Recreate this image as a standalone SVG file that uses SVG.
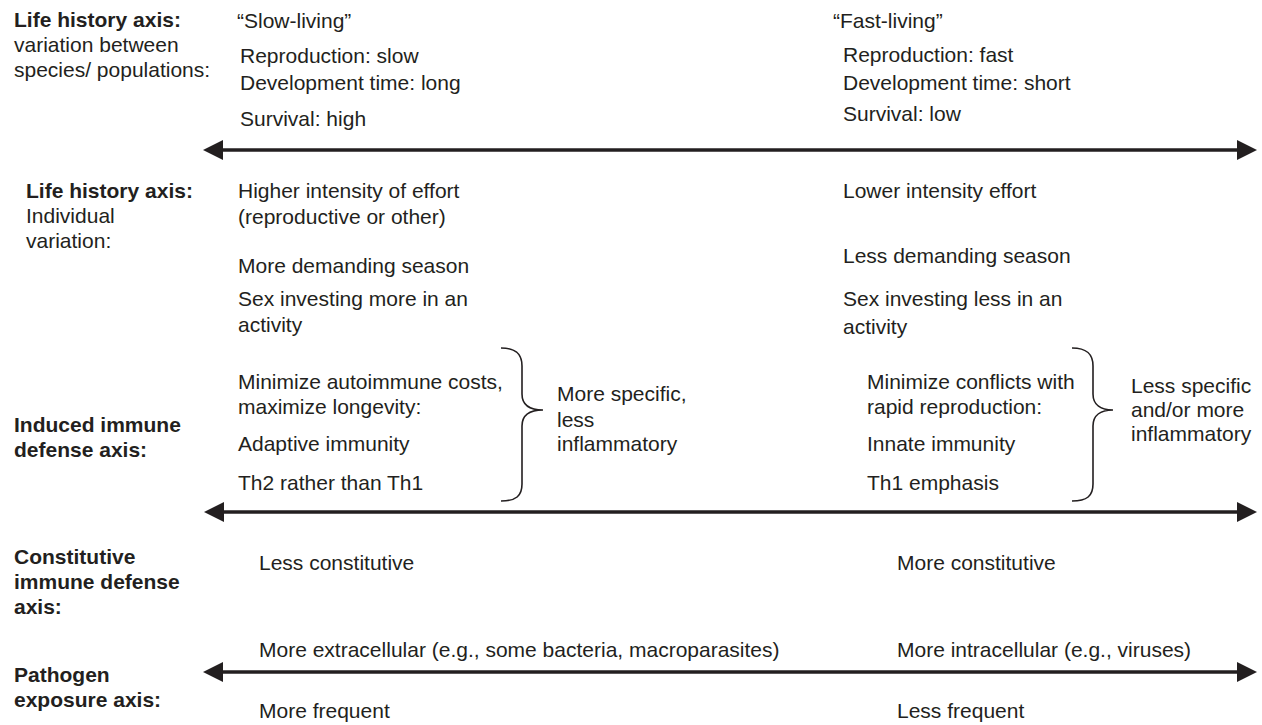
<svg xmlns="http://www.w3.org/2000/svg" width="1262" height="725" viewBox="0 0 1262 725">
<style>
text{font-family:"Liberation Sans",Arial,sans-serif;font-size:21px;fill:#231f20}
.b{font-weight:bold}
.axis{stroke:#231f20;stroke-width:3.5;fill:none}
.head{fill:#231f20}
.brace{stroke:#231f20;stroke-width:1.6;fill:none}
</style>
<rect width="1262" height="725" fill="#fff"/>
<g id="connectors">
<line class="axis" x1="218" y1="150" x2="1242" y2="150"/>
<polygon class="head" points="203,150 223,140 223,160"/>
<polygon class="head" points="1257,150 1237,140 1237,160"/>
<line class="axis" x1="218" y1="512" x2="1242" y2="512"/>
<polygon class="head" points="204,512 224,502 224,522"/>
<polygon class="head" points="1257,512 1237,502 1237,522"/>
<line class="axis" x1="218" y1="672" x2="1242" y2="672"/>
<polygon class="head" points="203,672 223,662 223,682"/>
<polygon class="head" points="1257,672 1237,662 1237,682"/>
</g>
<g id="label-lh-species">
<text class="b" x="14" y="27">Life history axis:</text>
<text x="14" y="52">variation between</text>
<text x="14" y="77">species/ populations:</text>
</g>
<g id="slow-living">
<text x="237" y="28">“Slow-living”</text>
<text x="240" y="63">Reproduction: slow</text>
<text x="240" y="90">Development time: long</text>
<text x="240" y="126">Survival: high</text>
</g>
<g id="fast-living">
<text x="833" y="28">“Fast-living”</text>
<text x="843" y="62">Reproduction: fast</text>
<text x="843" y="90">Development time: short</text>
<text x="843" y="121">Survival: low</text>
</g>
<g id="label-lh-individual">
<text class="b" x="26" y="198">Life history axis:</text>
<text x="26" y="223">Individual</text>
<text x="26" y="248">variation:</text>
</g>
<g id="individual-slow">
<text x="238" y="198">Higher intensity of effort</text>
<text x="238" y="224">(reproductive or other)</text>
<text x="238" y="273">More demanding season</text>
<text x="238" y="306">Sex investing more in an</text>
<text x="238" y="332">activity</text>
</g>
<g id="individual-fast">
<text x="843" y="198">Lower intensity effort</text>
<text x="843" y="263">Less demanding season</text>
<text x="843" y="306">Sex investing less in an</text>
<text x="843" y="334">activity</text>
</g>
<g id="label-induced">
<text class="b" x="14" y="432">Induced immune</text>
<text class="b" x="14" y="457">defense axis:</text>
</g>
<g id="induced-slow">
<text x="238" y="389">Minimize autoimmune costs,</text>
<text x="238" y="414">maximize longevity:</text>
<text x="238" y="451">Adaptive immunity</text>
<text x="238" y="490">Th2 rather than Th1</text>
<path class="brace" d="M501,348 C516,348 522,354 522,366 L522,394 C522,405 530,410 543,410 C530,410 522,415 522,426 L522,484 C522,496 516,501 501,501"/>
<text x="557" y="401">More specific,</text>
<text x="557" y="427">less</text>
<text x="557" y="451">inflammatory</text>
</g>
<g id="induced-fast">
<text x="867" y="389">Minimize conflicts with</text>
<text x="867" y="414">rapid reproduction:</text>
<text x="867" y="451">Innate immunity</text>
<text x="867" y="490">Th1 emphasis</text>
<path class="brace" d="M1072,348 C1087,348 1093,354 1093,366 L1093,394 C1093,405 1101,410 1113,410 C1101,410 1093,415 1093,426 L1093,484 C1093,496 1087,501 1072,501"/>
<text x="1131" y="393">Less specific</text>
<text x="1131" y="417">and/or more</text>
<text x="1131" y="441">inflammatory</text>
</g>
<g id="label-constitutive">
<text class="b" x="14" y="564">Constitutive</text>
<text class="b" x="14" y="589">immune defense</text>
<text class="b" x="14" y="614">axis:</text>
</g>
<g id="constitutive-values">
<text x="259" y="570">Less constitutive</text>
<text x="897" y="570">More constitutive</text>
</g>
<g id="label-pathogen">
<text class="b" x="14" y="682">Pathogen</text>
<text class="b" x="14" y="707">exposure axis:</text>
</g>
<g id="pathogen-values">
<text x="259" y="657">More extracellular (e.g., some bacteria, macroparasites)</text>
<text x="897" y="657">More intracellular (e.g., viruses)</text>
<text x="259" y="718">More frequent</text>
<text x="897" y="718">Less frequent</text>
</g>
</svg>
